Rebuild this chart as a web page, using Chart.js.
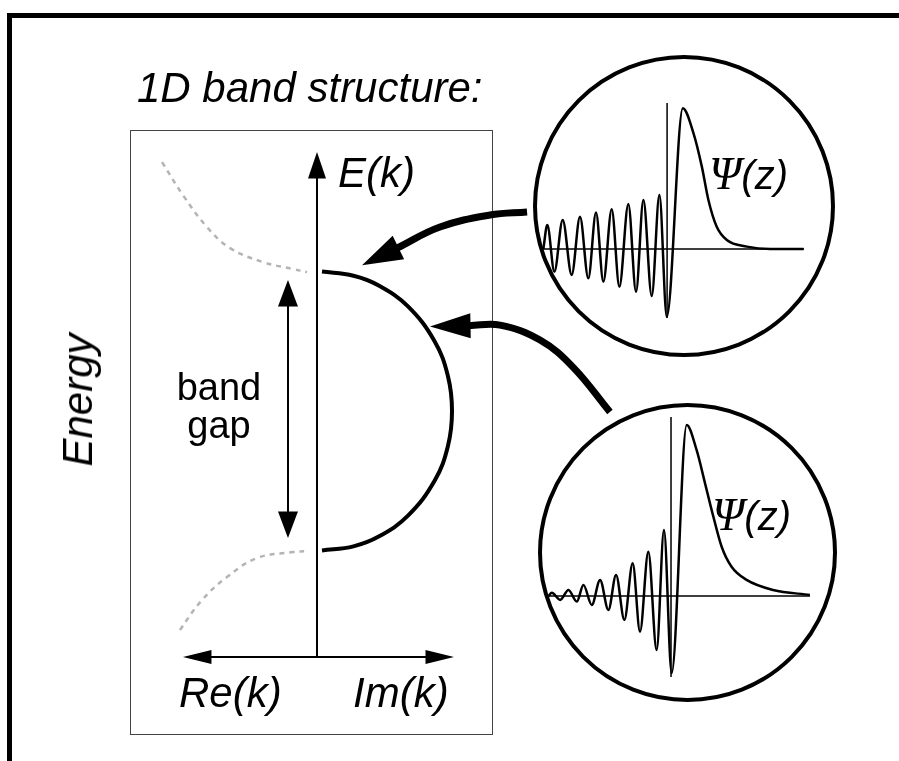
<!DOCTYPE html>
<html>
<head>
<meta charset="utf-8">
<script src="https://cdn.jsdelivr.net/npm/chart.js"></script>
<style>
body{margin:0;width:899px;height:761px;overflow:hidden;background:#fff;position:relative;font-family:"Liberation Sans",Arial,sans-serif}
.txt{position:absolute;white-space:nowrap;line-height:1;color:#000;z-index:3}
.it{font-style:italic}
#frame{position:absolute;left:7px;top:13px;width:1000px;height:900px;border-left:5px solid #000;border-top:5px solid #000}
#box{position:absolute;left:130px;top:130px;width:363px;height:605px;border:1.5px solid #444;box-sizing:border-box}
.circle{position:absolute;border:4px solid #000;border-radius:50%;box-sizing:border-box;z-index:1}
canvas{position:absolute;z-index:2}
</style>
</head>
<body>
<div id="frame"></div>
<div id="box"></div>
<div class="circle" style="left:533px;top:55px;width:302px;height:302px"></div>
<div class="circle" style="left:538px;top:403px;width:299px;height:299px"></div>

<canvas id="upperWave" width="302" height="302" style="left:533px;top:55px"></canvas>
<canvas id="lowerWave" width="299" height="299" style="left:538px;top:403px"></canvas>
<canvas id="bandChart" width="899" height="761" style="left:0;top:0"></canvas>

<div class="txt it" style="left:137px;top:67.4px;font-size:42px">1D band structure:</div>
<div class="txt it" style="left:338px;top:152.4px;font-size:42px">E(k)</div>
<div class="txt" style="left:169px;top:367.8px;width:100px;text-align:center;font-size:38px;line-height:38px">band<br>gap</div>
<div class="txt it" style="left:179px;top:672.4px;font-size:42px">Re(k)</div>
<div class="txt it" style="left:353px;top:672.4px;font-size:42px">Im(k)</div>
<div class="txt it" style="left:77.5px;top:400px;font-size:42px;transform:translate(-50%,-50%) rotate(-90deg)">Energy</div>
<div class="txt it" style="left:709px;top:150.5px;display:flex;align-items:baseline"><span style="font-family:'Liberation Serif',serif;font-size:46px">Ψ</span><span style="font-size:40px">(z)</span></div>
<div class="txt it" style="left:712px;top:491.5px;display:flex;align-items:baseline"><span style="font-family:'Liberation Serif',serif;font-size:46px">Ψ</span><span style="font-size:40px">(z)</span></div>

<script>
//DATOS  (k: Re(k) < 0 < Im(k), E: energia, gap entre -1 y 1)
const upperBandK=[-1.148,-0.993,-0.815,-0.644,-0.400,-0.178,-0.074]
const upperBandE=[1.785,1.548,1.319,1.168,1.068,1.018,0.996]
const lowerBandK=[-1.148,-1.015,-0.852,-0.667,-0.444,-0.178,-0.074]
const lowerBandE=[-1.771,-1.570,-1.355,-1.190,-1.054,-1.011,-1.004]

const gapK=[0.037,0.27,0.457,0.674,0.871,0.97,1.0,0.97,0.871,0.674,0.457,0.27,0.037]
const gapE=[1.0,0.97,0.9,0.75,0.5,0.25,0,-0.25,-0.5,-0.75,-0.9,-0.97,-1.0]

const eAxisK=[0,0]
const eAxisE=[-1.763,1.677]
const kAxisK=[-0.793,0.815]
const kAxisE=[-1.763,-1.763]
const gapArrowK=[-0.215,-0.215]
const gapArrowE=[-0.731,0.760]

const upperArrowK=[1.556,1.281,0.911,0.593]
const upperArrowE=[1.427,1.405,1.319,1.168]
const lowerArrowK=[2.170,1.896,1.652,1.356,1.126]
const lowerArrowE=[-0.007,0.315,0.509,0.616,0.612]

//funcion de onda, estado de arriba
const upperWaveZ=[-7.73,-7.48,-7.04,-6.52,-5.96,-5.44,-4.92,-4.44,-3.98,-3.46,-2.98,-2.42,-1.94,-1.48,-0.96,-0.48,-0.02,0.98,1.65,2.17,2.58,3.10,3.73,4.98,6.44,8.52]
const upperWavePsi=[0,0.170,-0.161,0.206,-0.184,0.229,-0.208,0.258,-0.232,0.281,-0.267,0.319,-0.303,0.348,-0.333,0.383,-0.480,0.998,0.820,0.584,0.348,0.158,0.064,0.017,0,0]

//funcion de onda, estado de abajo
const lowerWaveZ=[-7.67,-7.46,-6.94,-6.42,-5.90,-5.48,-4.96,-4.44,-3.92,-3.44,-2.92,-2.40,-1.94,-1.42,-0.90,-0.44,0.04,0.98,1.60,2.13,2.65,3.17,3.79,4.73,6.39,8.69]
const lowerWavePsi=[0,0.019,-0.023,0.035,-0.033,0.064,-0.053,0.094,-0.082,0.123,-0.140,0.191,-0.209,0.259,-0.316,0.386,-0.452,1.0,0.854,0.659,0.464,0.288,0.171,0.094,0.035,0.006]

//FUNCIONES
function pairs(xs,ys){
    return xs.map((x,i)=>({x,y:ys[i]}))
}

function line(xs,ys,extra){
    return Object.assign({
        data:pairs(xs,ys),
        showLine:true,
        borderColor:"#000",
        borderWidth:2,
        pointRadius:0,
        tension:0,
        clip:false
    },extra)
}

function drawHead(ctx,from,to,size){
    const [len,half]=size
    const dx=to.x-from.x, dy=to.y-from.y
    const d=Math.hypot(dx,dy)
    const ux=dx/d, uy=dy/d
    const bx=to.x-ux*1.5, by=to.y-uy*1.5
    ctx.beginPath()
    ctx.moveTo(to.x+ux*len,to.y+uy*len)
    ctx.lineTo(bx-uy*half,by+ux*half)
    ctx.lineTo(bx+uy*half,by-ux*half)
    ctx.closePath()
    ctx.fill()
}

//puntas de flecha
const arrowHeads={
    id:"arrowHeads",
    afterDatasetsDraw(chart){
        const ctx=chart.ctx
        chart.data.datasets.forEach((ds,i)=>{
            if (!ds.heads) return
            const pts=chart.getDatasetMeta(i).data
            ctx.save()
            ctx.fillStyle=ds.borderColor
            if (ds.heads.end) drawHead(ctx,pts[pts.length-2],pts[pts.length-1],ds.heads.end)
            if (ds.heads.start) drawHead(ctx,pts[1],pts[0],ds.heads.start)
            ctx.restore()
        })
    }
}

//ejes dentro de los circulos
const waveAxes={
    id:"waveAxes",
    beforeDatasetsDraw(chart){
        const {ctx,chartArea:a,scales:{x,y}}=chart
        const x0=x.getPixelForValue(0)
        const y0=y.getPixelForValue(0)
        ctx.save()
        ctx.strokeStyle="#000"
        ctx.lineWidth=1.5
        ctx.beginPath()
        ctx.moveTo(a.left,y0)
        ctx.lineTo(a.right,y0)
        ctx.moveTo(x0,a.top)
        ctx.lineTo(x0,a.bottom)
        ctx.stroke()
        ctx.restore()
    }
}

const baseOptions={
    responsive:false,
    animation:false,
    events:[],
    plugins:{legend:{display:false},tooltip:{enabled:false}}
}

//GRAFICA
new Chart(document.querySelector("#bandChart"),{
    type:"scatter",
    data:{
        datasets:[
            line(upperBandK,upperBandE,{borderColor:"#b4b4b4",borderWidth:2.5,borderDash:[5,5],tension:0.4}),
            line(lowerBandK,lowerBandE,{borderColor:"#b4b4b4",borderWidth:2.5,borderDash:[5,5],tension:0.4}),
            line(gapK,gapE,{borderWidth:4,tension:0.4}),
            line(eAxisK,eAxisE,{heads:{end:[25,9]}}),
            line(kAxisK,kAxisE,{heads:{start:[27,7],end:[27,7]}}),
            line(gapArrowK,gapArrowE,{heads:{start:[25,10],end:[25,10]}}),
            line(upperArrowK,upperArrowE,{borderWidth:7,tension:0.4,heads:{end:[39,13]}}),
            line(lowerArrowK,lowerArrowE,{borderWidth:7,tension:0.4,heads:{end:[39,12.5]}})
        ]
    },
    options:Object.assign({},baseOptions,{
        layout:{padding:{left:182,right:447,top:152,bottom:104}},
        scales:{
            x:{type:"linear",min:-1,max:1,display:false},
            y:{type:"linear",min:-1.763,max:1.857,display:false}
        }
    }),
    plugins:[arrowHeads]
})

function waveChart(id,zs,psis,range,padding){
    return new Chart(document.querySelector(id),{
        type:"scatter",
        data:{
            datasets:[
                line(zs,psis,{borderWidth:2.5,cubicInterpolationMode:"monotone"})
            ]
        },
        options:Object.assign({},baseOptions,{
            layout:{padding},
            scales:{
                x:{type:"linear",min:range[0],max:range[1],display:false},
                y:{type:"linear",min:range[2],max:range[3],display:false}
            }
        }),
        plugins:[waveAxes]
    })
}

waveChart("#upperWave",upperWaveZ,upperWavePsi,[-7.75,8.55,-0.489,1.035],{left:10,right:31,top:48,bottom:39})
waveChart("#lowerWave",lowerWaveZ,lowerWavePsi,[-7.7,8.7,-0.474,1.047],{left:10,right:27,top:14,bottom:25})
</script>
</body>
</html>
